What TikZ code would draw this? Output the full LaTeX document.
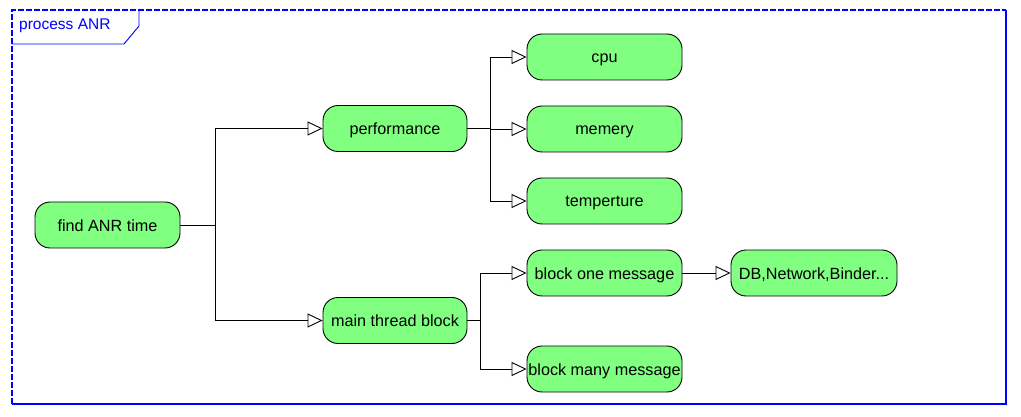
\documentclass[tikz,border=0pt]{standalone}
\usepackage{fontspec}
\setmainfont{Liberation Sans}
\usetikzlibrary{arrows.meta}
\begin{document}
\begin{tikzpicture}[x=1pt,y=-1pt,
  box/.style={draw=black,fill={rgb,255:red,128;green,255;blue,128},rounded corners=15pt,
    minimum height=46pt,inner sep=0pt,text height=14pt,text depth=2pt,line width=0.9pt,font=\fontsize{16.2}{18}\selectfont},
  conn/.style={draw=black,line width=0.9pt,-{Triangle[open,length=15pt,width=14pt,line width=0.9pt]}},
  plain/.style={draw=black,line width=0.9pt}]
\useasboundingbox (0,0) rectangle (1021,417);
\definecolor{frameblue}{RGB}{0,0,255}
% frame
\draw[frameblue,line width=1.2pt,dashed,dash pattern=on 6pt off 2pt] (12,404) -- (12,10) -- (1006,10);
\draw[frameblue,line width=1.2pt] (1006,10) -- (1006,404) -- (12,404);
\draw[frameblue,line width=0.9pt] (12,44) -- (124,44) -- (139,26) -- (139,10);
\node[text=frameblue,anchor=base west,inner sep=0pt,font=\fontsize{15.5}{18}\selectfont] (title) at (19,29.5) {process ANR};
% nodes
\node[box,minimum width=145pt] (find) at (107.5,225) {find ANR time};
\node[box,minimum width=144pt] (perf) at (395,128.5) {performance};
\node[box,minimum width=144pt] (main) at (395,320.5) {main thread block};
\node[box,minimum width=155pt] (cpu) at (604.5,57) {cpu};
\node[box,minimum width=155pt] (mem) at (604.5,129) {memery};
\node[box,minimum width=155pt] (temp) at (604.5,201) {temperture};
\node[box,minimum width=155pt] (one) at (604.5,273) {block one message};
\node[box,minimum width=155pt] (many) at (604.5,369) {block many message};
\node[box,minimum width=166pt] (db) at (814,273) {DB,Network,Binder...};
% connectors
\coordinate (j1) at (215,225);
\coordinate (j2) at (490,128.5);
\coordinate (j3) at (480,320.5);
\draw[plain] (find.east) -- (j1);
\draw[conn] (j1) |- (perf.west);
\draw[conn] (j1) |- (main.west);
\draw[plain] (perf.east) -- (j2);
\draw[conn] (j2) |- (cpu.west);
\draw[conn] (j2) |- (mem.west);
\draw[conn] (j2) |- (temp.west);
\draw[plain] (main.east) -- (j3);
\draw[conn] (j3) |- (one.west);
\draw[conn] (j3) |- (many.west);
\draw[conn] (one.east) -- (db.west);
\end{tikzpicture}
\end{document}
